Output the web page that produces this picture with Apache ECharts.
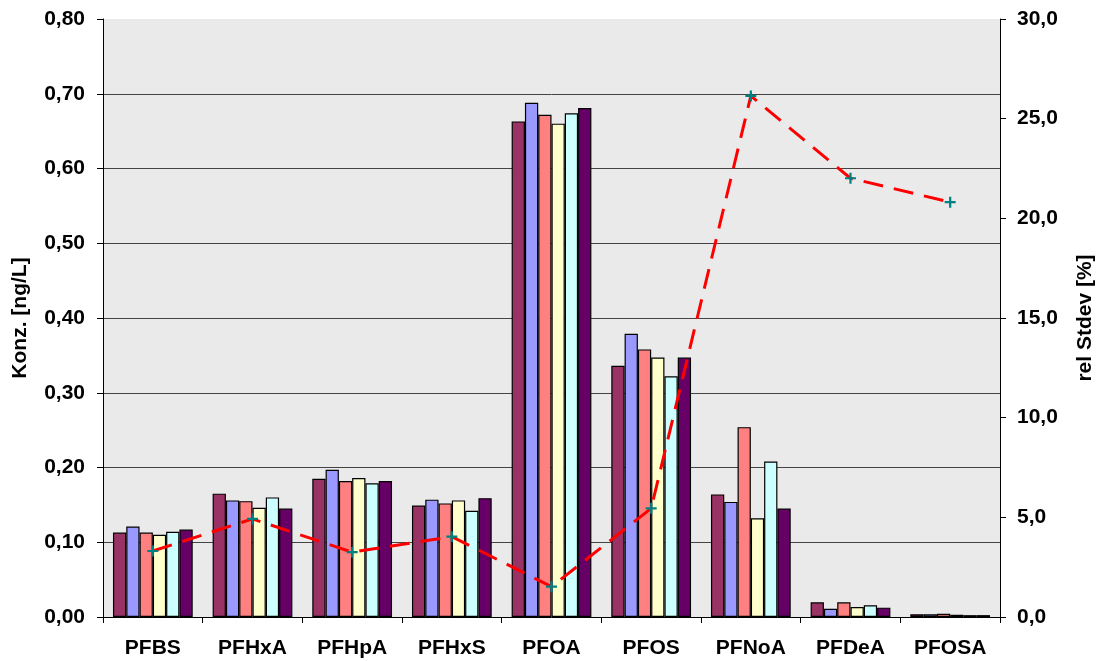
<!DOCTYPE html>
<html>
<head>
<meta charset="utf-8">
<script src="https://cdn.jsdelivr.net/npm/echarts@6/dist/echarts.min.js"></script>
<style>
html,body{margin:0;padding:0;background:#fff;}
#c{width:1096px;height:661px;}
</style>
</head>
<body>
<div id="c"></div>
<script>
const categories = ['PFBS','PFHxA','PFHpA','PFHxS','PFOA','PFOS','PFNoA','PFDeA','PFOSA'];
const s1 = [0.113, 0.165, 0.185, 0.149, 0.663, 0.336, 0.164, 0.0196, 0.0036];
const s2 = [0.121, 0.156, 0.197, 0.157, 0.688, 0.379, 0.154, 0.011, 0.0036];
const s3 = [0.113, 0.155, 0.182, 0.152, 0.672, 0.358, 0.254, 0.0196, 0.0044];
const s4 = [0.110, 0.146, 0.186, 0.156, 0.660, 0.347, 0.132, 0.0134, 0.003];
const s5 = [0.114, 0.160, 0.179, 0.142, 0.674, 0.322, 0.208, 0.0156, 0.0025];
const s6 = [0.117, 0.145, 0.182, 0.159, 0.681, 0.347, 0.145, 0.0125, 0.0025];
const relStdev = [3.31, 4.92, 3.25, 4.03, 1.52, 5.45, 26.14, 22.01, 20.81];
const leftTicks = {min: 0, max: 0.8, interval: 0.1};
const rightTicks = {min: 0, max: 30, interval: 5};

const barSeries = [s1, s2, s3, s4, s5, s6];
const barColors = ['#993366', '#9999FF', '#FF8080', '#FFFFCC', '#CCFFFF', '#660066'];
const FONT = 'Liberation Sans';
const FS = 21;

const chart = echarts.init(document.getElementById('c'), null, {renderer: 'canvas'});
const series = barSeries.map((d, i) => ({
  type: 'bar',
  data: d,
  yAxisIndex: 0,
  barGap: '0%',
  barCategoryGap: '20%',
  itemStyle: {color: barColors[i], borderColor: '#000', borderWidth: 1.2},
  silent: true
}));
series.push({
  type: 'line',
  data: relStdev,
  yAxisIndex: 1,
  z: 10,
  lineStyle: {color: '#FF0000', width: 3, type: [20, 11]},
  symbol: 'path://M4,0H6V4H10V6H6V10H4V6H0V4H4Z',
  symbolSize: 11,
  itemStyle: {color: '#008080'},
  showSymbol: true,
  silent: true
});

chart.setOption({
  animation: false,
  backgroundColor: '#fff',
  grid: {left: 103, right: 96, top: 19, bottom: 44, show: true, backgroundColor: '#EAEAEA', borderWidth: 0,
    containLabel: false, outerBoundsMode: 'none'},
  xAxis: {
    type: 'category',
    data: categories,
    axisLine: {lineStyle: {color: '#000', width: 1}},
    axisTick: {show: true, length: 6, lineStyle: {color: '#000'}},
    axisLabel: {color: '#000', fontFamily: FONT, fontWeight: 'bold', fontSize: FS, margin: 21}
  },
  yAxis: [{
    type: 'value',
    min: leftTicks.min, max: leftTicks.max, interval: leftTicks.interval,
    name: 'Konz. [ng/L]',
    nameLocation: 'middle',
    nameRotate: 90,
    nameGap: 72,
    nameTextStyle: {color: '#000', fontFamily: FONT, fontWeight: 'bold', fontSize: FS},
    axisLine: {show: true, lineStyle: {color: '#000', width: 1}},
    axisTick: {show: true, length: 6, lineStyle: {color: '#000'}},
    axisLabel: {color: '#000', fontFamily: FONT, fontWeight: 'bold', fontSize: FS, margin: 18,
      formatter: v => v.toFixed(2).replace('.', ',')},
    splitLine: {show: true, showMaxLine: false, showMinLine: false, lineStyle: {color: '#444', width: 1}}
  }, {
    type: 'value',
    position: 'right',
    min: rightTicks.min, max: rightTicks.max, interval: rightTicks.interval,
    name: 'rel Stdev [%]',
    nameLocation: 'middle',
    nameRotate: 90,
    nameGap: 75,
    nameTextStyle: {color: '#000', fontFamily: FONT, fontWeight: 'bold', fontSize: FS},
    axisLine: {show: true, lineStyle: {color: '#000', width: 1}},
    axisTick: {show: true, length: 6, lineStyle: {color: '#000'}},
    axisLabel: {color: '#000', fontFamily: FONT, fontWeight: 'bold', fontSize: FS, margin: 17,
      formatter: v => v.toFixed(1).replace('.', ',')},
    splitLine: {show: false}
  }],
  series: series
});
</script>
</body>
</html>
